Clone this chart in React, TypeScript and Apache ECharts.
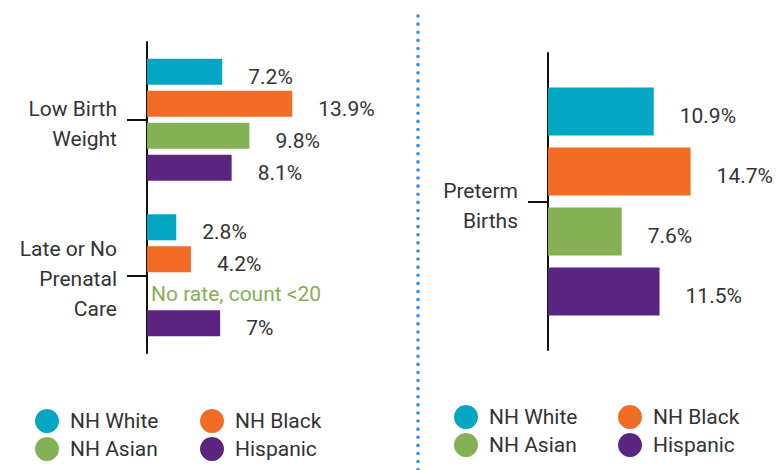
import React, { useEffect, useRef } from "react";
import * as echarts from "echarts";

const groups = ["NH White", "NH Black", "NH Asian", "Hispanic"];
const colors = ["#04A6C4", "#F26C25", "#85B155", "#5C2481"];

const leftCategories = ["Low Birth\nWeight", "Late or No\nPrenatal\nCare"];
const leftWhite = [7.2, 2.8];
const leftBlack = [13.9, 4.2];
const leftAsian: (number | null)[] = [9.8, null];
const leftHispanic = [8.1, 7];
const noRateText = "No rate, count <20";

const rightCategories = ["Preterm\nBirths"];
const rightWhite = [10.9];
const rightBlack = [14.7];
const rightAsian = [7.6];
const rightHispanic = [11.5];

const FONT = "Roboto, 'Noto Sans', sans-serif";

export default function App() {
  const ref = useRef<HTMLDivElement>(null);

  useEffect(() => {
    document.body.style.margin = "0";
    const chart = echarts.init(ref.current!, null, { renderer: "svg" });

    const leftData = [leftWhite, leftBlack, leftAsian, leftHispanic];
    const rightData = [rightWhite, rightBlack, rightAsian, rightHispanic];

    const valueLabel = (offsetY: number) => ({
      show: true,
      position: "right" as const,
      distance: 5,
      offset: [21, offsetY],
      formatter: (p: any) => `${p.value}%`,
      fontSize: 21,
      fontFamily: FONT,
      color: "#333",
    });

    const leftSeries = groups.map((name, i) => ({
      type: "bar",
      name,
      xAxisIndex: 0,
      yAxisIndex: 0,
      barWidth: 26,
      barGap: "23%",
      itemStyle: { color: colors[i] },
      label: valueLabel(5),
      data: leftData[i].map((v) =>
        v === null
          ? {
              value: 0,
              label: {
                show: true,
                position: "right",
                distance: 5,
                offset: [-1, 3],
                formatter: noRateText,
                color: colors[i],
                fontSize: 21,
                fontFamily: FONT,
              },
            }
          : v
      ),
    }));

    const rightSeries = groups.map((name, i) => ({
      type: "bar",
      name,
      xAxisIndex: 1,
      yAxisIndex: 1,
      barWidth: 48,
      barGap: "25%",
      itemStyle: { color: colors[i] },
      label: valueLabel(4),
      data: rightData[i],
    }));

    const catAxis = (gridIndex: number, data: string[]) => ({
      type: "category",
      gridIndex,
      data,
      inverse: true,
      axisLine: { show: true, lineStyle: { color: "#111", width: 2 } },
      axisTick: {
        show: true,
        alignWithLabel: true,
        length: 20,
        lineStyle: { color: "#111", width: 2 },
      },
      axisLabel: {
        fontSize: 21,
        fontFamily: FONT,
        color: "#333",
        lineHeight: 30,
        margin: 30,
        formatter: (v: string) => "{s| }\n" + v,
        rich: { s: { fontSize: 1, lineHeight: 8 } },
      },
    });

    const legendBase = {
      orient: "vertical" as const,
      icon: "circle",
      itemWidth: 36,
      itemHeight: 24,
      itemGap: 4,
      padding: 0,
      selectedMode: false,
      textStyle: { fontSize: 21, fontFamily: FONT, color: "#333" },
    };

    chart.setOption({
      animation: false,
      backgroundColor: "#fff",
      grid: [
        { left: 147, top: 42, width: 209, height: 311 },
        { left: 548, top: 53, width: 194, height: 297 },
      ],
      xAxis: [
        { type: "value", gridIndex: 0, min: 0, max: 20, show: false },
        { type: "value", gridIndex: 1, min: 0, max: 20, show: false },
      ],
      yAxis: [catAxis(0, leftCategories), catAxis(1, rightCategories)],
      legend: [
        { ...legendBase, left: 35, top: 409, data: [groups[0], groups[2]] },
        { ...legendBase, left: 200, top: 409, data: [groups[1], groups[3]] },
        { ...legendBase, left: 454, top: 405, data: [groups[0], groups[2]] },
        { ...legendBase, left: 618, top: 405, data: [groups[1], groups[3]] },
      ],
      graphic: [
        {
          type: "line",
          shape: { x1: 418, y1: 16, x2: 418, y2: 470 },
          style: {
            stroke: "#2B8FEF",
            lineWidth: 3.5,
            lineDash: [0.1, 8],
            lineCap: "round",
          },
          silent: true,
        },
      ],
      series: [...leftSeries, ...rightSeries],
    });

    return () => chart.dispose();
  }, []);

  return <div ref={ref} style={{ width: 777, height: 470 }} />;
}
